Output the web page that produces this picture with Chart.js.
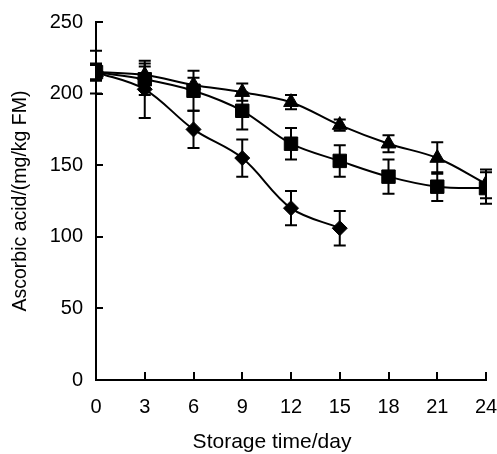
<!DOCTYPE html>
<html lang="en">
<head>
<meta charset="UTF-8">
<title>Ascorbic acid during storage</title>
<script src="https://cdn.jsdelivr.net/npm/chart.js"></script>
<style>
    html, body {
        margin: 0;
        padding: 0;
        background-color: #ffffff;
    }
    canvas {
        display: block;
    }
</style>
</head>
<body>
<canvas id="acidChart" width="497" height="454"></canvas>

<script>
    // storage days on the x axis
    const days = [0, 3, 6, 9, 12, 15, 18, 21, 24];
    const yTicks = [0, 50, 100, 150, 200, 250];

    // ascorbic acid content (mg/kg FM) and standard deviation per series
    const diamondValues = [215, 203, 175, 155, 120, 106];
    const diamondErrors = [15, 20, 13, 13, 12, 12];
    const squareValues = [215, 210, 202, 188, 165, 153, 142, 135, 134];
    const squareErrors = [6, 11, 14, 13, 11, 11, 12, 10, 11];
    const triangleValues = [215, 213, 206, 201, 194, 178, 165, 155, 137];
    const triangleErrors = [5, 6, 5, 6, 5, 4, 6, 11, 10];

    const xTitle = 'Storage time/day';
    const yTitle = 'Ascorbic acid/(mg/kg FM)';

    const fontFamily = '"Liberation Sans", Arial, sans-serif';

    const toPoints = values => values.map((v, i) => ({x: days[i], y: v}));

    function makeSeries(label, values, errors, style, radius) {
        return {
            label: label,
            data: toPoints(values),
            errors: errors,
            borderColor: '#000000',
            backgroundColor: '#000000',
            borderWidth: 2,
            tension: 0.35,
            pointStyle: style,
            pointRadius: radius,
            pointBorderWidth: 1,
            pointBackgroundColor: '#000000',
            pointBorderColor: '#000000'
        };
    }

    // vertical error bars with caps
    const errorBars = {
        id: 'errorBars',
        afterDatasetsDraw(chart) {
            const ctx = chart.ctx;
            const yScale = chart.scales.y;
            ctx.save();
            ctx.strokeStyle = '#000000';
            ctx.lineWidth = 2;
            chart.data.datasets.forEach((ds, i) => {
                const meta = chart.getDatasetMeta(i);
                meta.data.forEach((pt, j) => {
                    const v = ds.data[j].y;
                    const e = ds.errors[j];
                    const top = yScale.getPixelForValue(v + e);
                    const bottom = yScale.getPixelForValue(v - e);
                    ctx.beginPath();
                    ctx.moveTo(pt.x, top);
                    ctx.lineTo(pt.x, bottom);
                    ctx.moveTo(pt.x - 6, top);
                    ctx.lineTo(pt.x + 6, top);
                    ctx.moveTo(pt.x - 6, bottom);
                    ctx.lineTo(pt.x + 6, bottom);
                    ctx.stroke();
                });
            });
            ctx.restore();
        }
    };

    // tick marks pointing into the plot area, plus the x axis caption
    const innerTicks = {
        id: 'innerTicks',
        afterDraw(chart) {
            const {ctx, chartArea, scales: {x, y}} = chart;
            ctx.save();
            ctx.strokeStyle = '#000000';
            ctx.lineWidth = 2;
            ctx.beginPath();
            y.ticks.forEach(t => {
                const py = Math.round(y.getPixelForValue(t.value));
                ctx.moveTo(chartArea.left, py);
                ctx.lineTo(chartArea.left + 7, py);
            });
            x.ticks.forEach(t => {
                const px = Math.round(x.getPixelForValue(t.value));
                ctx.moveTo(px, chartArea.bottom);
                ctx.lineTo(px, chartArea.bottom - 8);
            });
            ctx.stroke();

            ctx.fillStyle = '#000000';
            ctx.font = '21px ' + fontFamily;
            ctx.textAlign = 'center';
            ctx.textBaseline = 'alphabetic';
            ctx.fillText(xTitle, 272, 448);
            ctx.restore();
        }
    };

    const ctx = document.getElementById('acidChart').getContext('2d');

    new Chart(ctx, {
        type: 'line',
        data: {
            datasets: [
                makeSeries('Series 1', diamondValues, diamondErrors, 'rectRot', 7.5),
                makeSeries('Series 2', squareValues, squareErrors, 'rect', 9.5),
                makeSeries('Series 3', triangleValues, triangleErrors, 'triangle', 8.5)
            ]
        },
        options: {
            responsive: false,
            animation: false,
            layout: {
                padding: {top: 22, right: 11, left: 0, bottom: 0}
            },
            plugins: {
                legend: {display: false},
                tooltip: {enabled: false}
            },
            scales: {
                x: {
                    type: 'linear',
                    min: 0,
                    max: 24,
                    afterFit: scale => {
                        scale.height = 74;
                        scale.paddingLeft = 0;
                        scale.paddingRight = 0;
                    },
                    afterBuildTicks: scale => {
                        scale.ticks = days.map(d => ({value: d}));
                    },
                    ticks: {
                        color: '#000000',
                        padding: 15,
                        font: {family: fontFamily, size: 20}
                    },
                    grid: {display: false, drawTicks: false},
                    border: {display: true, color: '#000000', width: 2}
                },
                y: {
                    min: 0,
                    max: 250,
                    afterFit: scale => {
                        scale.width = 96;
                        scale.paddingTop = 0;
                        scale.paddingBottom = 0;
                    },
                    afterBuildTicks: scale => {
                        scale.ticks = yTicks.map(v => ({value: v}));
                    },
                    ticks: {
                        color: '#000000',
                        padding: 13,
                        font: {family: fontFamily, size: 20}
                    },
                    grid: {display: false, drawTicks: false},
                    border: {display: true, color: '#000000', width: 2},
                    title: {
                        display: true,
                        text: yTitle,
                        color: '#000000',
                        font: {family: fontFamily, size: 19.5},
                        padding: {top: 9, bottom: 0}
                    }
                }
            }
        },
        plugins: [errorBars, innerTicks]
    });
</script>
</body>
</html>
